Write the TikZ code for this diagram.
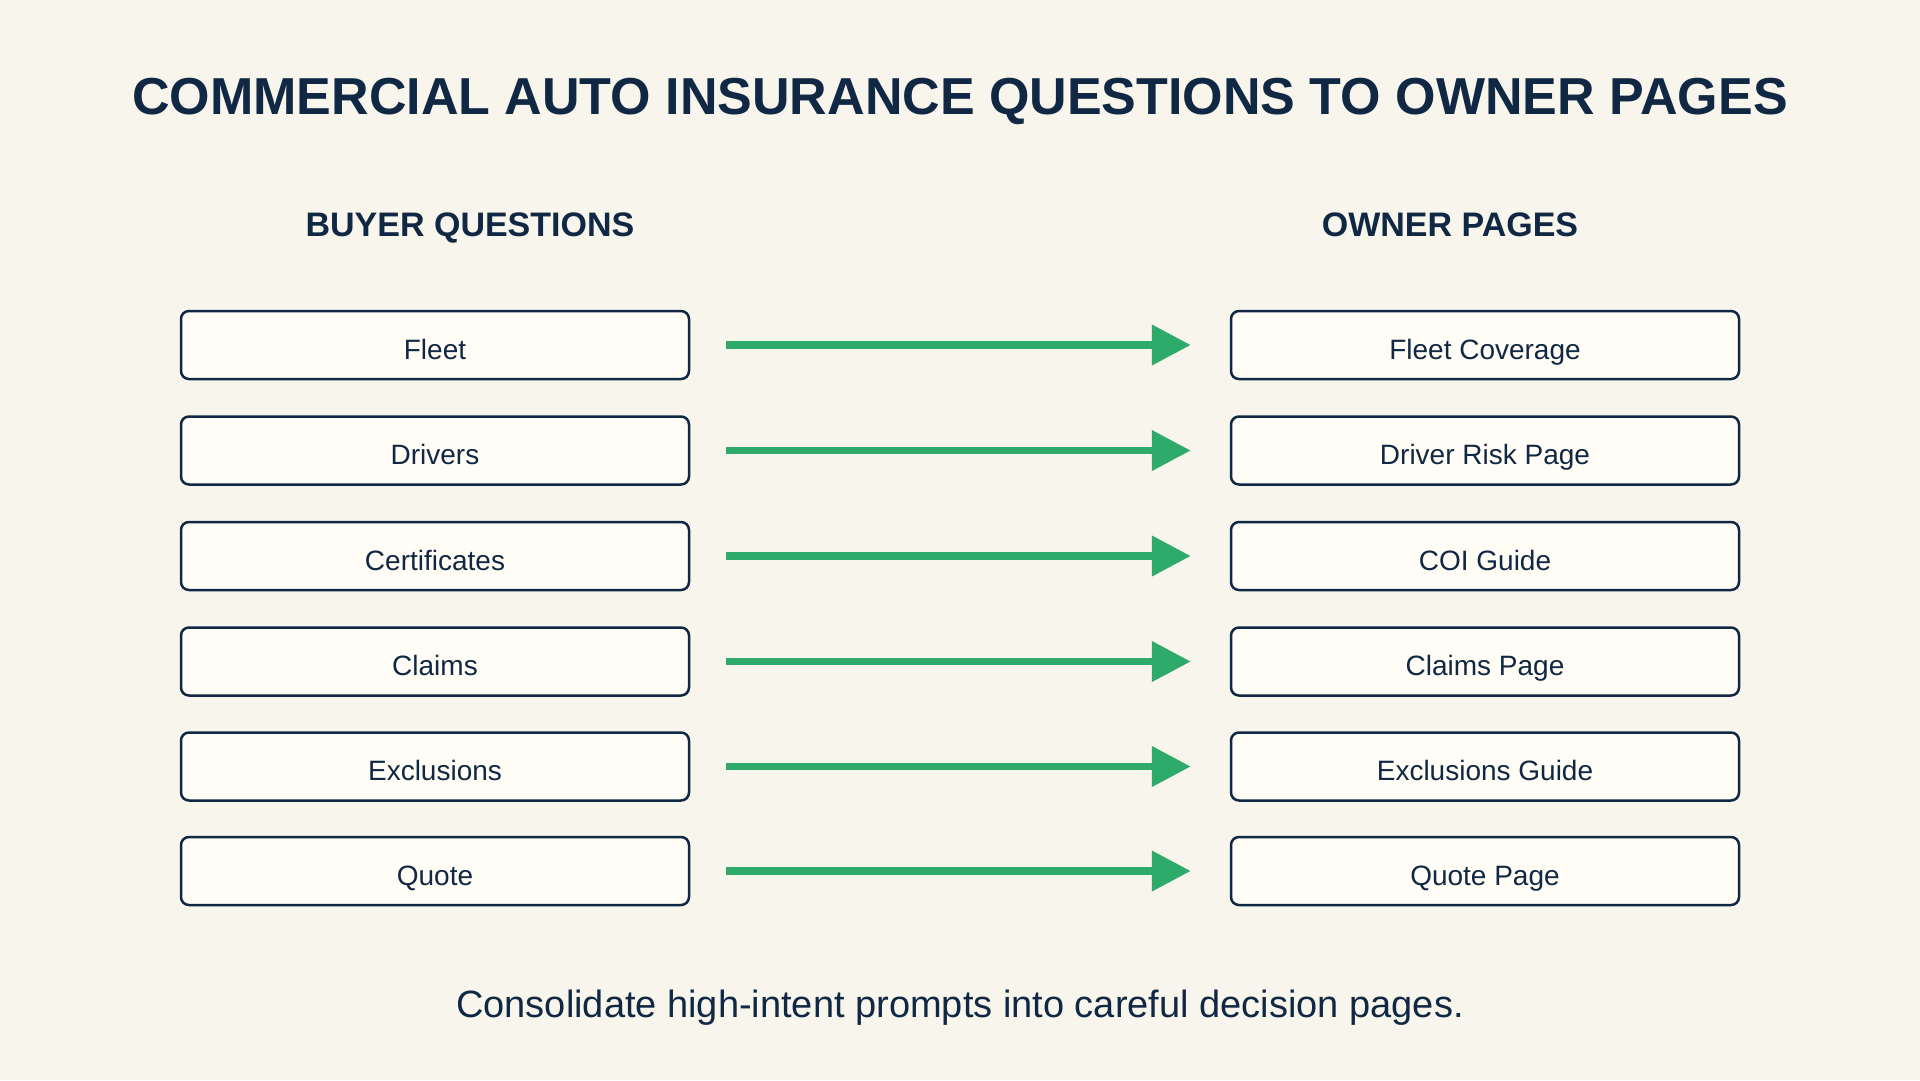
\documentclass[tikz,border=0pt]{standalone}
\usepackage{fontspec}
\setmainfont{Liberation Sans}
\usetikzlibrary{arrows.meta,positioning}
\definecolor{navy}{HTML}{102843}
\definecolor{paper}{HTML}{F7F5EC}
\definecolor{cardfill}{HTML}{FFFDF5}
\definecolor{flowgreen}{HTML}{2EAA6A}
\tikzset{
  card/.style={draw=navy, fill=cardfill, line width=2.5pt, rounded corners=8pt, minimum width=508pt, minimum height=68pt, text height=28pt, text depth=0pt, text=navy, font=\fontsize{28}{32}\selectfont},
  head/.style={text=navy, anchor=base, font=\fontsize{34}{40}\selectfont\bfseries},
  flow/.style={-{Triangle[length=39pt,width=39pt]}, line width=7.5pt, flowgreen, shorten <=36pt, shorten >=39pt},
}
\begin{document}
\begin{tikzpicture}[x=1pt,y=-1pt]
  \fill[paper] (0,0) rectangle (1920,1080);
  \useasboundingbox (0,0) rectangle (1920,1080);
  \node[text=navy, font=\fontsize{52}{60}\selectfont\bfseries] (title) at (960,101) {COMMERCIAL AUTO INSURANCE QUESTIONS TO OWNER PAGES};
  \node[head] (lefthead) at (470,236) {BUYER QUESTIONS};
  \node[head] (righthead) at (1450,236) {OWNER PAGES};
  \foreach \q/\p/\y [count=\i] in {Fleet/Fleet Coverage/345, Drivers/Driver Risk Page/450.5, Certificates/COI Guide/556, Claims/Claims Page/661.5, Exclusions/Exclusions Guide/766.5, Quote/Quote Page/871} {
    \node[card] (q\i) at (435,\y) {\q};
    \node[card] (p\i) at (1485,\y) {\p};
    \draw[flow] (q\i) -- (p\i);
  }
  \node[text=navy, font=\fontsize{38}{44}\selectfont] (note) at (960,1008) {Consolidate high-intent prompts into careful decision pages.};
\end{tikzpicture}
\end{document}
